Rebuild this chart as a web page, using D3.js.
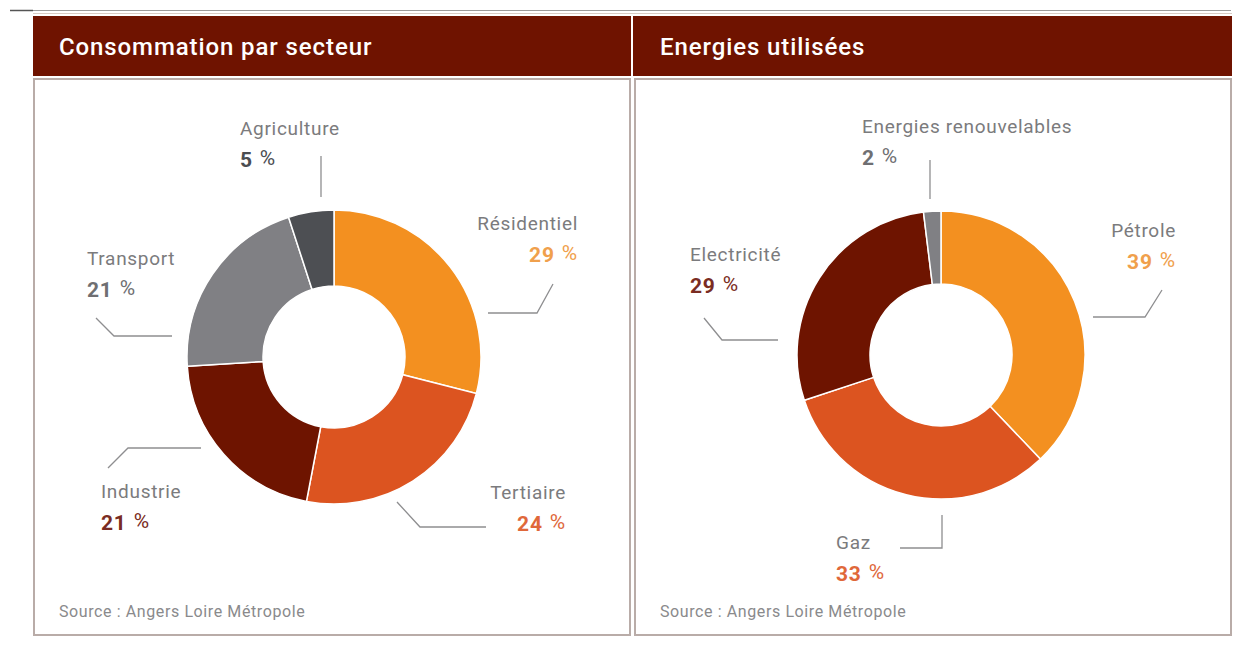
<!DOCTYPE html>
<html>
<head>
<meta charset="utf-8">
<script src="https://cdn.jsdelivr.net/npm/d3@7"></script>
<style>
  html, body { margin: 0; padding: 0; background: #ffffff; }
  svg { display: block; }
  text { font-family: Roboto, "Noto Sans", sans-serif; }
</style>
</head>
<body>
<svg id="chart" width="1239" height="656"></svg>
<script>
// ---- Data -------------------------------------------------------------
const panelTitles = ["Consommation par secteur", "Energies utilisées"];
const sourceText = "Source : Angers Loire Métropole";

const sectorLabels = ["Résidentiel", "Tertiaire", "Industrie", "Transport", "Agriculture"];
const sectorValues = [29, 24, 21, 21, 5];

const energyLabels = ["Pétrole", "Gaz", "Electricité", "Energies renouvelables"];
const energyValues = [39, 33, 29, 2];

// ---- Styles -----------------------------------------------------------
const sectorColors = ["#f39020", "#dc5420", "#6e1400", "#808084", "#4d4f53"];
const sectorPctColors = ["#f0a04c", "#e0683a", "#7a2c22", "#6f6f72", "#4b4d51"];
const energyColors = ["#f39020", "#dc5420", "#6e1400", "#808084"];
const energyPctColors = ["#f0a04c", "#e0683a", "#7a2c22", "#6f6f72"];

const headerColor = "#6f1300";
const frameColor = "#b9aca8";
const labelColor = "#7b7b7d";
const leaderColor = "#8e8e90";

const svg = d3.select("#chart");

// Top rule
svg.append("line").attr("x1", 10).attr("x2", 1231).attr("y1", 10.5).attr("y2", 10.5)
  .attr("stroke", "#9a9a9a").attr("stroke-width", 1);
svg.append("line").attr("x1", 10).attr("x2", 33).attr("y1", 10.5).attr("y2", 10.5)
  .attr("stroke", "#555").attr("stroke-width", 1.5);

// Header band
svg.append("rect").attr("x", 33).attr("y", 13).attr("width", 1199).attr("height", 1)
  .attr("fill", "#d8ccc4");
svg.append("rect").attr("x", 33).attr("y", 16).attr("width", 1199).attr("height", 60)
  .attr("fill", headerColor);
svg.append("rect").attr("x", 631).attr("y", 16).attr("width", 2).attr("height", 60)
  .attr("fill", "#ffffff");

// Panel frames
const panels = [
  { x: 34, y: 79, w: 596, h: 556 },
  { x: 635, y: 79, w: 596, h: 556 }
];
panels.forEach((p, i) => {
  svg.append("rect").attr("x", p.x).attr("y", p.y).attr("width", p.w).attr("height", p.h)
    .attr("fill", "none").attr("stroke", frameColor).attr("stroke-width", 2);
  svg.append("text").attr("x", p.x + 25).attr("y", 55)
    .attr("fill", "#ffffff").attr("font-size", 24).attr("font-weight", 500)
    .attr("letter-spacing", 0.9)
    .text(panelTitles[i]);
  svg.append("text").attr("x", p.x + 25).attr("y", 617)
    .attr("fill", "#8a8a8c").attr("font-size", 16)
    .attr("letter-spacing", 0.6)
    .text(sourceText);
});

// ---- Donuts -----------------------------------------------------------
const pie = d3.pie().sort(null).value(d => d);

function drawDonut(labels, values, colors, pctColors, center, radii, annotations) {
  const g = svg.append("g").attr("transform", `translate(${center[0]},${center[1]})`);
  const arc = d3.arc().innerRadius(radii[0]).outerRadius(radii[1]);
  g.selectAll("path.slice")
    .data(pie(values))
    .join("path")
    .attr("class", "slice")
    .attr("d", arc)
    .attr("fill", (d, i) => colors[i])
    .attr("stroke", "#ffffff")
    .attr("stroke-width", 1.5);

  annotations.forEach((a, i) => {
    svg.append("path")
      .attr("d", d3.line()(a.line))
      .attr("fill", "none")
      .attr("stroke", leaderColor)
      .attr("stroke-width", 1.3);
    svg.append("text")
      .attr("x", a.x).attr("y", a.y)
      .attr("text-anchor", a.anchor)
      .attr("fill", labelColor)
      .attr("font-size", 19)
      .attr("letter-spacing", 0.7)
      .text(labels[i]);
    const t = svg.append("text")
      .attr("x", a.x).attr("y", a.y + 32)
      .attr("text-anchor", a.anchor)
      .attr("fill", pctColors[i])
      .attr("font-size", 21)
      .attr("letter-spacing", 0.8);
    t.append("tspan").attr("font-weight", 700).text(values[i]);
    t.append("tspan").attr("font-weight", 400).attr("dx", 7).attr("dy", -2).text("%");
  });
}

// Label positions and leader lines
const sectorLayout = [
  { x: 578, y: 230, anchor: "end",   line: [[553, 284], [537, 313], [488, 313]] },
  { x: 566, y: 499, anchor: "end",   line: [[397, 502], [420, 527], [486, 527]] },
  { x: 101, y: 498, anchor: "start", line: [[108, 468], [128, 448], [201, 448]] },
  { x: 87,  y: 265, anchor: "start", line: [[96, 318], [114, 336], [172, 336]] },
  { x: 240, y: 135, anchor: "start", line: [[321, 156], [321, 197]] }
];
const energyLayout = [
  { x: 1176, y: 237, anchor: "end",   line: [[1162, 290], [1145, 317], [1093, 317]] },
  { x: 836,  y: 549, anchor: "start", line: [[942, 515], [942, 548], [900, 548]] },
  { x: 690,  y: 261, anchor: "start", line: [[704, 318], [722, 340], [778, 340]] },
  { x: 862,  y: 133, anchor: "start", line: [[930, 160], [930, 199]] }
];

drawDonut(sectorLabels, sectorValues, sectorColors, sectorPctColors, [334, 357], [71, 147], sectorLayout);
drawDonut(energyLabels, energyValues, energyColors, energyPctColors, [941, 355], [71, 144], energyLayout);
</script>
</body>
</html>
